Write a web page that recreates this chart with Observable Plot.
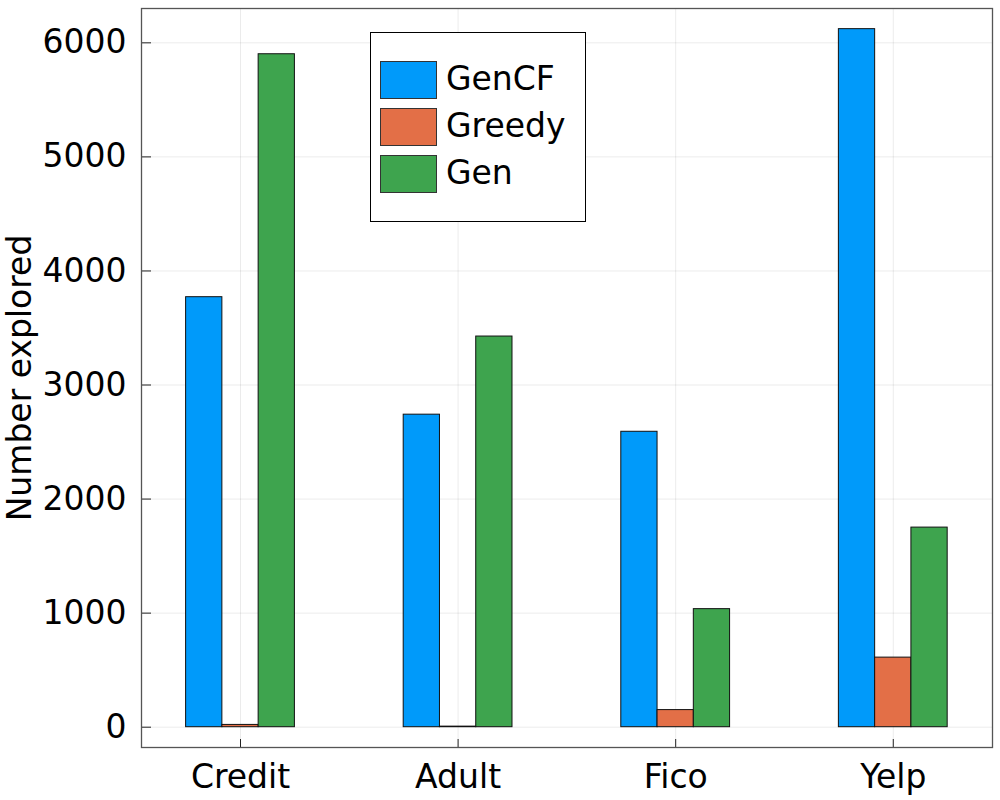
<!DOCTYPE html>
<html><head><meta charset="utf-8">
<script src="https://cdn.jsdelivr.net/npm/d3@7"></script>
<script src="https://cdn.jsdelivr.net/npm/@observablehq/plot@0.6"></script>
<style>
body{margin:0;background:#fff;font-family:"DejaVu Sans",sans-serif;}
#wrap{position:relative;width:1000px;height:800px;}
#legend{position:absolute;left:370px;top:32px;width:216px;height:190px;border:1.3px solid #000;background:#fff;box-sizing:border-box;}
.item{position:absolute;left:9px;height:38px;}
.sw{position:absolute;left:0;top:0;width:57px;height:38px;box-sizing:border-box;border:1.2px solid #333;}
.lab{position:absolute;left:66px;top:-2px;font-size:33px;line-height:40px;color:#000;white-space:nowrap;}
</style>
</head><body>
<div id="wrap"></div>
<script>
const categories = ["Credit", "Adult", "Fico", "Yelp"];
const series = ["GenCF", "Greedy", "Gen"];
const colors = ["#009AFA", "#E36F47", "#3EA44E"];
const genCF = [3770, 2740, 2590, 6120];
const greedy = [20, 5, 150, 610];
const gen = [5900, 3425, 1035, 1750];
const yTicks = [0, 1000, 2000, 3000, 4000, 5000, 6000];
const xTicks = [1, 2, 3, 4];

const values = [genCF, greedy, gen];
const table = [];
series.forEach((s, si) => {
  categories.forEach((c, ci) => {
    const x1 = ci + 1 - 0.25 + si / 6;
    table.push({series: s, category: c, value: values[si][ci], x1, x2: x1 + 1 / 6});
  });
});

const chart = Plot.plot({
  width: 1000,
  height: 800,
  marginLeft: 141,
  marginRight: 8,
  marginTop: 8,
  marginBottom: 53,
  style: {fontFamily: "DejaVu Sans", fontSize: "33px", background: "#fff"},
  x: {domain: [0.545, 4.456]},
  y: {domain: [-178, 6301]},
  color: {domain: series, range: colors},
  marks: [
    Plot.gridY(yTicks, {stroke: "#000", strokeOpacity: 0.08, strokeWidth: 1}),
    Plot.gridX(xTicks, {stroke: "#000", strokeOpacity: 0.08, strokeWidth: 1}),
    Plot.rectY(table, {x1: "x1", x2: "x2", y: "value", fill: "series", stroke: "#111", strokeWidth: 1}),
    Plot.axisY(yTicks, {tickSize: -10, tickPadding: 25, fontSize: 33, label: null, stroke: "#222", tickFormat: d => String(d)}),
    Plot.axisX(xTicks, {tickSize: -8, tickPadding: 25, fontSize: 33, label: null, tickFormat: d => categories[d - 1], stroke: "#222"}),
    Plot.frame({stroke: "#555", strokeWidth: 1.3}),
    Plot.text(["Number explored"], {frameAnchor: "left", textAnchor: "middle", rotate: -90, dx: -121, fontSize: 33, text: d => d, fill: "#000"})
  ]
});
const wrap = document.getElementById("wrap");
wrap.appendChild(chart);

const legend = document.createElement("div");
legend.id = "legend";
series.forEach((s, i) => {
  const item = document.createElement("div");
  item.className = "item";
  item.style.top = (28 + i * 47) + "px";
  const sw = document.createElement("div");
  sw.className = "sw";
  sw.style.background = colors[i];
  const lab = document.createElement("div");
  lab.className = "lab";
  lab.textContent = s;
  item.appendChild(sw);
  item.appendChild(lab);
  legend.appendChild(item);
});
wrap.appendChild(legend);
</script>
</body></html>
